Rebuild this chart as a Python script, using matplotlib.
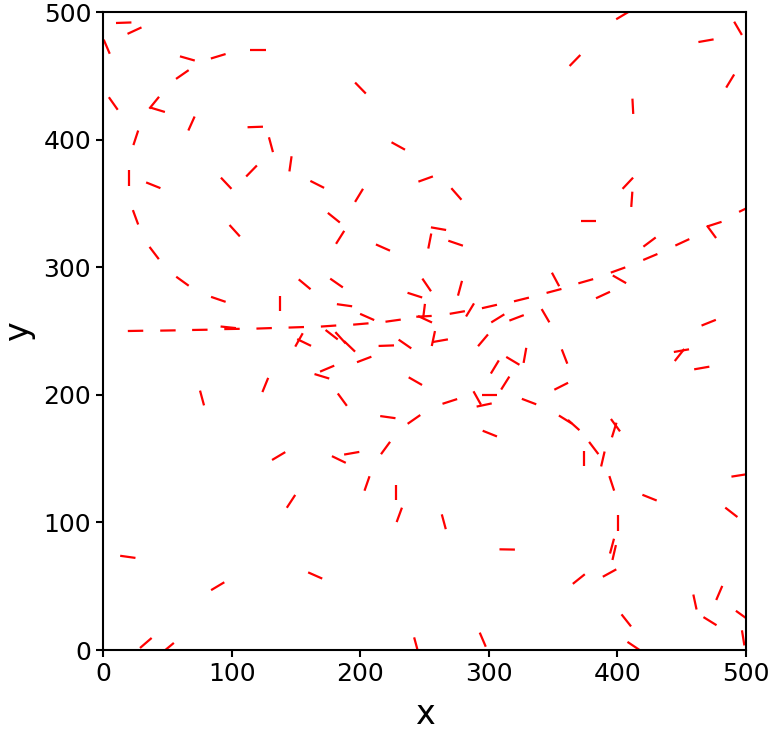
import numpy as np
import matplotlib
matplotlib.use("Agg")
import matplotlib.pyplot as plt

# segment centres (data units) and orientation in degrees
seg_x = [16.1, 24.5, 2.9, 65.6, 89.6, 120.4, 61.7, 8.0, 39.8, 42.4, 68.8, 25.5,
         118.4, 130.6, 145.8, 20.5, 39.1, 95.8, 115.5, 166.6, 25.3,
         200.2, 229.6, 250.9, 199.1, 274.8, 179.5,
         404.2, 493.8, 468.9, 367.0, 487.7, 412.0, 408.1, 411.2, 377.7, 500.0,
         102.4, 39.8, 61.8, 89.7, 137.8, 156.8, 25.3, 50.5, 75.3, 97.4, 100.3,
         125.3, 150.3, 152.4, 156.4, 170.2, 77.0, 126.2,
         184.4, 217.7, 260.9, 254.1, 274.2, 181.6, 251.7, 277.6, 242.5, 187.8,
         205.4, 225.6, 200.5, 175.4, 249.6, 249.6, 250.4, 275.5, 285.4, 300.5,
         325.4, 307.0, 321.6, 177.8, 184.7, 191.7, 220.3, 234.8, 256.9, 262.3,
         295.5, 203.1, 174.3, 242.9, 186.1, 221.5, 241.8, 269.7, 291.0, 296.4,
         300.5, 304.7, 312.8, 318.7, 328.1, 331.3, 300.8,
         475.3, 473.2, 425.0, 450.5, 425.6, 400.5, 401.6, 375.4, 388.8, 351.9,
         350.7, 344.1, 358.9, 356.3, 359.6, 366.0, 398.5, 397.5, 471.0, 449.8,
         448.3, 465.6,
         136.6, 146.2, 19.3, 89.2, 33.3, 50.5, 165.0,
         183.4, 193.4, 219.7, 205.3, 227.7, 230.4, 265.0, 314.3, 243.5, 295.3,
         381.6, 373.8, 388.7, 395.6, 425.0, 494.6, 488.6, 400.5, 395.8, 397.5,
         393.9, 370.0, 460.3, 479.2, 472.0, 497.0, 497.8, 406.9, 412.8]
seg_y = [491.6, 485.4, 472.8, 463.6, 465.3, 470.2, 451.0, 428.3, 428.9, 423.4, 412.6, 401.4,
         409.9, 396.0, 381.0, 369.9, 364.2, 365.8, 375.4, 364.9, 339.1,
         440.4, 395.0, 369.1, 356.3, 357.4, 338.8,
         497.4, 487.2, 477.5, 462.0, 445.9, 426.1, 365.8, 353.2, 336.0, 346.0,
         328.6, 311.1, 289.0, 274.8, 271.3, 286.6, 250.1, 250.4, 250.9, 252.9, 251.6,
         252.1, 252.9, 243.0, 241.0, 214.5, 197.5, 207.7,
         323.4, 315.4, 330.2, 320.5, 318.8, 287.6, 286.1, 283.5, 278.1, 270.2,
         261.0, 258.1, 255.5, 253.9, 265.3, 261.5, 259.2, 264.5, 266.5, 269.2,
         274.7, 259.9, 260.3, 247.1, 244.7, 238.0, 238.5, 239.8, 244.1, 242.4,
         242.7, 227.7, 220.5, 210.7, 196.2, 182.5, 180.7, 194.8, 197.5, 192.0,
         199.8, 221.8, 209.2, 226.6, 230.9, 194.7, 169.6,
         333.7, 327.7, 319.7, 319.5, 308.0, 297.8, 290.5, 289.0, 278.2, 290.4,
         281.4, 262.0, 230.0, 206.7, 180.6, 176.3, 176.2, 172.4, 256.5, 234.6,
         231.2, 221.0,
         152.0, 116.5, 73.0, 50.0, 5.5, 1.7, 58.4,
         149.3, 154.2, 158.3, 130.5, 123.7, 105.9, 100.5, 78.8, 4.1, 8.1,
         158.3, 150.3, 149.7, 130.6, 119.4, 136.8, 107.9, 99.5, 81.4, 76.4,
         60.3, 55.6, 37.6, 44.7, 22.6, 27.2, 9.5, 23.2, 3.0]
seg_angle = [2, 25, -67, -16, 17, 0, 35, -55, 51, -17, 66, 72,
             2, -75, 82, 90, -22, -47, 46, -27, -70,
             -46, -29, 20, 59, -49, -39,
             31, -60, 10, 46, 59, -87, 47, 86, 0, 26,
             -48, -53, -36, -19, 90, -40, 1, 1, 1, -6, 1,
             2, 2, 61, -26, -17, -75, 68,
             58, -24, -10, 79, -19, -35, -56, 75, -18, -8,
             -24, 8, 5, 4, 83, 3, -25, 10, 59, 13,
             14, 32, 21, -38, -48, -44, 2, -35, 78, 10,
             50, 21, 23, -30, -54, -8, 35, 18, -61, 12,
             0, 59, 58, -31, 80, -21, -22,
             18, -54, 37, 25, 23, 20, -30, 16, 25, -62,
             15, -60, -69, 27, -32, -42, -54, 73, 22, 10,
             52, 10,
             31, 57, -8, 31, 41, 40, -24,
             -26, 10, 54, 71, 90, 70, -75, -1, -75, -67,
             -53, 90, 77, -72, -22, 9, -38, 90, 75, 77,
             29, 39, -78, 67, -32, -36, -81, -52, -34]
seg_len = 12.0

fig = plt.figure(figsize=(7.72, 7.33), dpi=100)
ax = fig.add_axes([103/772, 1 - 650/733, 643/772, 638/733])

for cx, cy, a in zip(seg_x, seg_y, seg_angle):
    t = np.deg2rad(a)
    dx = 0.5 * seg_len * np.cos(t)
    dy = 0.5 * seg_len * np.sin(t)
    ax.plot([cx - dx, cx + dx], [cy - dy, cy + dy], color="red", lw=1.6,
            solid_capstyle="butt")

ax.set_xlim(0, 500)
ax.set_ylim(0, 500)
ax.set_xticks([0, 100, 200, 300, 400, 500])
ax.set_yticks([0, 100, 200, 300, 400, 500])
ax.tick_params(labelsize=18, width=1.5, length=5)
for s in ax.spines.values():
    s.set_linewidth(1.5)
ax.set_xlabel("x", fontsize=24, labelpad=9)
ax.set_ylabel("y", fontsize=24, labelpad=6)

fig.savefig("out.png", dpi=100)
